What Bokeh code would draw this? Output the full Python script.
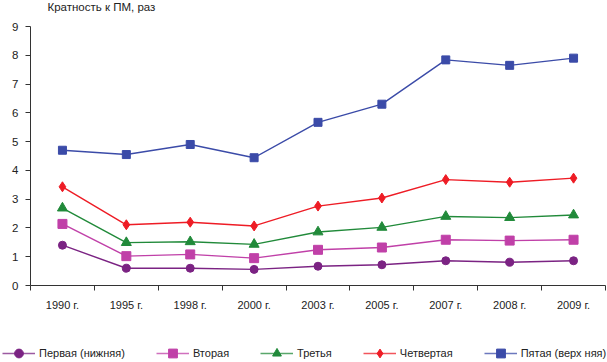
from bokeh.plotting import figure
from bokeh.models import FixedTicker, Legend, LegendItem, Range1d, Label
from bokeh.embed import file_html
from bokeh.resources import INLINE

years = ["1990 г.", "1995 г.", "1998 г.", "2000 г.", "2003 г.", "2005 г.", "2007 г.", "2008 г.", "2009 г."]
first = [1.40, 0.60, 0.60, 0.56, 0.67, 0.72, 0.86, 0.81, 0.86]
second = [2.14, 1.02, 1.08, 0.95, 1.24, 1.32, 1.59, 1.56, 1.59]
third = [2.69, 1.49, 1.52, 1.43, 1.86, 2.02, 2.40, 2.36, 2.45]
fourth = [3.43, 2.11, 2.20, 2.07, 2.76, 3.04, 3.68, 3.59, 3.73]
fifth = [4.70, 4.55, 4.90, 4.44, 5.67, 6.30, 7.84, 7.65, 7.90]
series_names = ["Первая (нижняя)", "Вторая", "Третья", "Четвертая", "Пятая (верх няя)"]
y_ticks = [0, 1, 2, 3, 4, 5, 6, 7, 8, 9]
y_title = "Кратность к ПМ, раз"

FONT = "'Liberation Sans', Arial, sans-serif"
TXT = "#222222"

x = [i + 0.5 for i in range(len(years))]

# strip above the chart holding the axis title
pt = figure(width=607, height=19, output_backend="svg", toolbar_location=None,
            x_range=Range1d(0, 1), y_range=Range1d(0, 1),
            x_axis_location=None, y_axis_location=None,
            min_border=0, min_border_left=0, min_border_right=0,
            min_border_top=0, min_border_bottom=0)
pt.outline_line_color = None
pt.xgrid.visible = False
pt.ygrid.visible = False
pt.add_layout(Label(x=47, y=19, x_units="screen", y_units="screen", text=y_title,
                    text_font=FONT, text_font_size="11.5px", text_color=TXT,
                    text_baseline="top", text_align="left"))

p = figure(width=607, height=297, output_backend="svg", toolbar_location=None,
           x_range=Range1d(0, len(years)), y_range=Range1d(0, 9),
           min_border_left=30, min_border_right=2, min_border_top=7, min_border_bottom=31)
p.outline_line_color = None
p.xgrid.visible = False
p.ygrid.visible = False

xa = p.xaxis[0]
xa.ticker = FixedTicker(ticks=x, minor_ticks=list(range(len(years) + 1)))
xa.major_label_overrides = {xi: lbl for xi, lbl in zip(x, years)}
xa.major_tick_line_color = None
xa.major_tick_out = 5
xa.major_tick_in = 0
xa.minor_tick_out = 5
xa.minor_tick_in = 0
xa.minor_tick_line_color = "#333333"
xa.axis_line_color = "#333333"
xa.major_label_standoff = 8
xa.major_label_text_font = FONT
xa.major_label_text_font_size = "11px"
xa.major_label_text_color = TXT

ya = p.yaxis[0]
ya.ticker = FixedTicker(ticks=y_ticks, minor_ticks=[])
ya.major_tick_out = 5
ya.major_tick_in = 0
ya.major_tick_line_color = "#333333"
ya.axis_line_color = "#333333"
ya.major_label_standoff = 7
ya.major_label_text_font = FONT
ya.major_label_text_font_size = "11.5px"
ya.major_label_text_color = TXT

colors = ["#7B2383", "#C040A8", "#218A3A", "#EE1C25", "#3B4BA8"]
markers = ["circle", "square", "triangle", "diamond", "square"]
sizes = [8, 9, 10, 10, 8]
data = [first, second, third, fourth, fifth]

for vals, c, m, s in zip(data, colors, markers, sizes):
    p.line(x, vals, line_color=c, line_width=1.4)
    p.scatter(x, vals, marker=m, size=s, fill_color=c, line_color=c)

# legend strip below the chart; its renderers hold the same series but lie outside its view
pl = figure(width=607, height=46, output_backend="svg", toolbar_location=None,
            x_range=Range1d(0, 1), y_range=Range1d(100, 101),
            x_axis_location=None, y_axis_location=None,
            min_border=0, min_border_left=0, min_border_right=0,
            min_border_top=0, min_border_bottom=0)
pl.outline_line_color = None
pl.xgrid.visible = False
pl.ygrid.visible = False

items = []
for name, vals, c, m in zip(series_names, data, colors, markers):
    ln = pl.line(x, vals, line_color=c, line_width=1.4, line_alpha=0.75)
    sc = pl.scatter(x, vals, marker=m, fill_color=c, line_color=c)
    items.append(LegendItem(label=name, renderers=[ln, sc]))

legend = Legend(items=items, orientation="horizontal", location=(2, -2),
                background_fill_alpha=0, border_line_color=None, padding=0, margin=0,
                spacing=31, glyph_width=33, glyph_height=22, label_standoff=4,
                label_text_font=FONT, label_text_font_size="11px", label_text_color=TXT,
                label_height=22)
pl.add_layout(legend, "center")

open("out.html", "w").write(file_html([pt, p, pl], INLINE))
